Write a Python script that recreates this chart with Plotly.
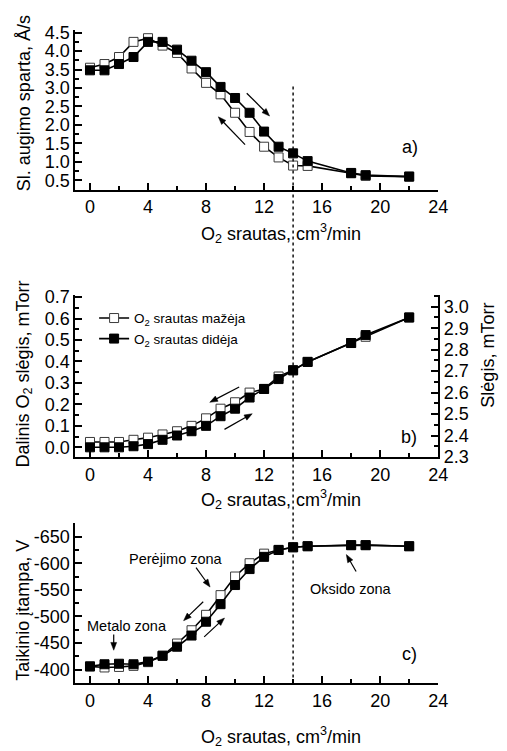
import math
import plotly.graph_objects as go

# ---------------- data ----------------
flow = [0, 1, 2, 3, 4, 5, 6, 7, 8, 9, 10, 11, 12, 13, 14, 15, 18, 19, 22]

rate_dec = [3.55, 3.65, 3.84, 4.25, 4.35, 4.15, 3.95, 3.53, 3.14, 2.83, 2.33, 1.81, 1.41, 1.12, 0.90, 0.89, 0.69, 0.62, 0.60]
rate_inc = [3.48, 3.48, 3.65, 3.84, 4.25, 4.25, 4.04, 3.74, 3.43, 3.03, 2.73, 2.33, 1.82, 1.41, 1.23, 1.02, 0.70, 0.64, 0.60]

press_dec = [0.025, 0.025, 0.025, 0.035, 0.045, 0.06, 0.075, 0.10, 0.135, 0.18, 0.21, 0.255, 0.272, 0.33, 0.359, 0.398, 0.486, 0.515, 0.605]
press_inc = [0.0, 0.0, 0.0, 0.005, 0.015, 0.035, 0.055, 0.075, 0.10, 0.145, 0.18, 0.232, 0.272, 0.318, 0.359, 0.398, 0.486, 0.523, 0.605]

volt_dec = [-406, -404, -405, -407, -414, -426, -449, -474, -503, -540, -575, -600, -618, -625, -630, -632, -634, -634, -632]
volt_inc = [-406, -410, -411, -410, -415, -426, -443, -464, -490, -523, -559, -589, -612, -625, -630, -632, -634, -634, -632]

volt_ticks = [-650, -600, -550, -500, -450, -400]
volt_ticktext = ["-650", "-600", "-550", "-500", "-450", "-400"]

name_dec = "O<sub>2</sub> srautas mažėja"
name_inc = "O<sub>2</sub> srautas didėja"
xtitle = "O<sub>2</sub> srautas, cm<sup>3</sup>/min"

# ---------------- layout helpers ----------------
W, H = 507, 751
def px(x):
    return x / W
def py(y):
    return 1 - y / H

X0, X1 = 77, 447
PA = (23, 186)
PB = (294, 460)
PC = (528, 692)
FONT = "Liberation Sans, Arial, sans-serif"

open_marker = dict(symbol="square", size=9, color="white", line=dict(color="#3a3a3a", width=1))
fill_marker = dict(symbol="square", size=9, color="black", line=dict(color="black", width=1))
line_style = dict(color="black", width=1.6)

fig = go.Figure()

# panel a
fig.add_trace(go.Scatter(x=flow, y=rate_dec, mode="lines+markers", line=line_style, marker=open_marker,
                         xaxis="x", yaxis="y", showlegend=False))
fig.add_trace(go.Scatter(x=flow, y=rate_inc, mode="lines+markers", line=line_style, marker=fill_marker,
                         xaxis="x", yaxis="y", showlegend=False))
# panel b
fig.add_trace(go.Scatter(x=flow, y=press_dec, mode="lines+markers", line=line_style, marker=open_marker,
                         xaxis="x2", yaxis="y2", name=name_dec))
fig.add_trace(go.Scatter(x=flow, y=press_inc, mode="lines+markers", line=line_style, marker=fill_marker,
                         xaxis="x2", yaxis="y2", name=name_inc))
fig.add_trace(go.Scatter(x=[], y=[], xaxis="x2", yaxis="y3", showlegend=False, hoverinfo="skip"))
# panel c
fig.add_trace(go.Scatter(x=flow, y=volt_dec, mode="lines+markers", line=line_style, marker=open_marker,
                         xaxis="x3", yaxis="y4", showlegend=False))
fig.add_trace(go.Scatter(x=flow, y=volt_inc, mode="lines+markers", line=line_style, marker=fill_marker,
                         xaxis="x3", yaxis="y4", showlegend=False))

tickfont = dict(size=18, color="black", family=FONT)

def xax(anchor):
    return dict(domain=[px(X0), px(X1)], anchor=anchor, range=[-1, 24], tick0=0, dtick=4,
                ticks="inside", ticklen=7, tickwidth=1.5, tickcolor="black",
                minor=dict(ticks="inside", ticklen=4, dtick=2, tick0=0, tickwidth=1.5, tickcolor="black"),
                showline=True, linewidth=2, linecolor="black", showgrid=False, zeroline=False,
                tickfont=tickfont, fixedrange=True)

def yax(anchor, dom, **kw):
    d = dict(domain=[py(dom[1]), py(dom[0])], anchor=anchor,
             ticks="inside", ticklen=7, tickwidth=1.5, tickcolor="black",
             showline=True, linewidth=2, linecolor="black", showgrid=False, zeroline=False,
             tickfont=tickfont)
    d.update(kw)
    return d

minor_common = dict(ticks="inside", ticklen=4, tickwidth=1.5, tickcolor="black")

fig.update_layout(
    width=W, height=H,
    margin=dict(l=0, r=0, t=0, b=0),
    paper_bgcolor="white", plot_bgcolor="white",
    font=dict(family=FONT, color="black", size=18),
    xaxis=xax("y"),
    xaxis2=xax("y2"),
    xaxis3=xax("y4"),
    yaxis=yax("x", PA, range=[0.25, 4.56], tick0=0.5, dtick=0.5, tickformat=".1f",
              minor=dict(dtick=0.25, tick0=0.25, **minor_common)),
    yaxis2=yax("x2", PB, range=[-0.045, 0.71], tick0=0, dtick=0.1, tickformat=".1f",
               minor=dict(dtick=0.05, tick0=0, **minor_common)),
    yaxis3=yax("x2", PB, range=[2.30, 3.055], tick0=2.3, dtick=0.1, tickformat=".1f",
               overlaying="y2", side="right",
               minor=dict(dtick=0.05, tick0=2.3, **minor_common)),
    yaxis4=yax("x3", PC, range=[-374, -675], tickmode="array", tickvals=volt_ticks, ticktext=volt_ticktext,
               minor=dict(dtick=25, tick0=0, **minor_common)),
    legend=dict(x=px(96), y=py(302), xanchor="left", yanchor="top", bgcolor="rgba(0,0,0,0)",
                font=dict(size=13.5, family=FONT, color="black"), tracegroupgap=0, itemwidth=30),
    showlegend=True,
)

shapes = []
# vertical dotted line at 14 cm3/min across all panels
shapes.append(dict(type="line", xref="x", yref="paper", x0=14, x1=14, y0=py(692), y1=py(80),
                   line=dict(color="black", width=1.4, dash="dot")))

def arrow(tx, ty, hx, hy, head=8.0, half=3.0):
    dx, dy = hx - tx, hy - ty
    L = math.hypot(dx, dy)
    ux, uy = dx / L, dy / L
    bx, by = hx - ux * head, hy - uy * head
    shapes.append(dict(type="line", xref="paper", yref="paper",
                       x0=px(tx), y0=py(ty), x1=px(bx + ux * 1), y1=py(by + uy * 1),
                       line=dict(color="black", width=1.2)))
    nx, ny = -uy, ux
    p1 = (hx, hy)
    p2 = (bx + nx * half, by + ny * half)
    p3 = (bx - nx * half, by - ny * half)
    path = "M {:.5f},{:.5f} L {:.5f},{:.5f} L {:.5f},{:.5f} Z".format(
        px(p1[0]), py(p1[1]), px(p2[0]), py(p2[1]), px(p3[0]), py(p3[1]))
    shapes.append(dict(type="path", xref="paper", yref="paper", path=path,
                       fillcolor="black", line=dict(color="black", width=0.5)))

ann = []
def text(x, y, t, size=18, angle=0):
    ann.append(dict(x=px(x), y=py(y), xref="paper", yref="paper", text=t, showarrow=False,
                    xanchor="center", yanchor="middle", textangle=angle,
                    font=dict(size=size, family=FONT, color="black")))

# axis titles
text(24, 98, "Sl. augimo sparta, Å/s", angle=-90)
text(24, 375, "Dalinis O<sub>2</sub> slėgis, mTorr", angle=-90)
text(24, 617, "Taikinio įtampa, V", angle=-90)
text(498, 356, "Slėgis, mTorr", angle=-90)
text(287, 231, xtitle)
text(287, 504, xtitle)
text(287, 746, xtitle)

# panel labels
text(418, 142, "a)")
text(417, 440, "b)")
text(418, 662, "c)")

# zone labels
text(180, 565, "Perėjimo zona", size=14.5)
text(130, 633, "Metalo zona", size=14.5)
text(358, 595, "Oksido zona", size=14.5)

# arrows panel a
arrow(251.7, 87.3, 275, 110.7)
arrow(250, 140, 222.7, 111.5)
# arrows panel b
arrow(244, 388.3, 214, 404)
arrow(229, 431.7, 257.3, 415.7)
# arrows panel c
arrow(200, 573.3, 214.3, 593.3)
arrow(116, 642, 116, 658)
arrow(363.3, 577.3, 353.3, 560)
arrow(207.3, 608.3, 187.3, 627.7)
arrow(208.3, 644.3, 229, 625)

fig.update_layout(annotations=ann, shapes=shapes)

fig.write_html("out.html")
